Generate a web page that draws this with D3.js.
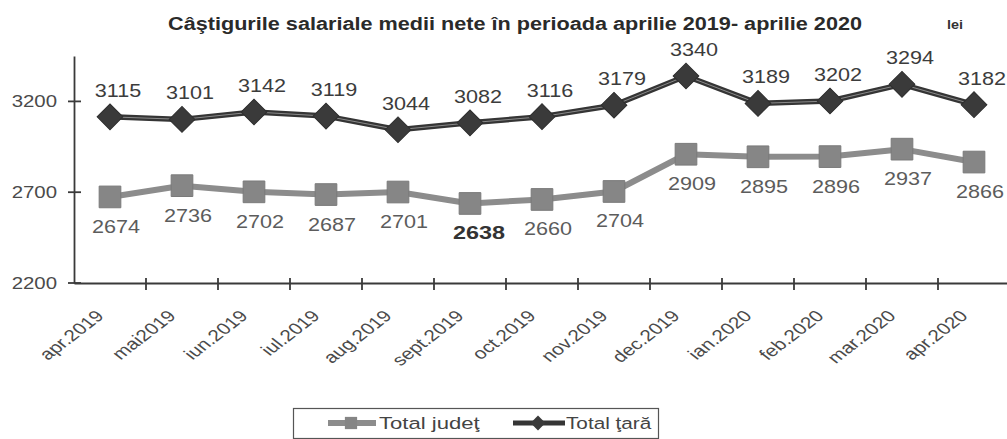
<!DOCTYPE html>
<html>
<head>
<meta charset="utf-8">
<script src="https://cdn.jsdelivr.net/npm/d3@7/dist/d3.min.js"></script>
<style>
  html, body { margin: 0; padding: 0; background: #fff; }
  svg { display: block; }
  text { font-family: "Liberation Sans", Arial, sans-serif; }
</style>
</head>
<body>
<svg id="chart" width="1007" height="439"></svg>
<script>
// ---- data ----
const categories = ["apr.2019","mai2019","iun.2019","iul.2019","aug.2019","sept.2019","oct.2019","nov.2019","dec.2019","ian.2020","feb.2020","mar.2020","apr.2020"];
const totalJudet = [2674, 2736, 2702, 2687, 2701, 2638, 2660, 2704, 2909, 2895, 2896, 2937, 2866];
const totalTara  = [3115, 3101, 3142, 3119, 3044, 3082, 3116, 3179, 3340, 3189, 3202, 3294, 3182];
const yTicks = [2200, 2700, 3200];
const seriesNames = ["Total judeţ", "Total ţară"];
const darkJudetLabels = ["sept.2019"]; // label printed darker (overprinted) in the original scan
const titleText = "Câştigurile salariale medii nete în perioada aprilie 2019- aprilie 2020";
const unitText = "lei";

// ---- layout ----
const SX = 1.2; // horizontal stretch of the scanned original
const svg = d3.select("#chart");
const x = d3.scaleBand().domain(categories).range([74, 1010]).padding(0);
const xb = d3.scaleLinear().domain([0, categories.length]).range([74, 1010]);
const y = d3.scaleLinear().domain([2200, 3450]).range([283, 56]);
const cx = c => x(c) + x.bandwidth() / 2;
const AX = "#3a3a3a";

// title
svg.append("text")
  .attr("x", 168).attr("y", 30)
  .attr("textLength", 694).attr("lengthAdjust", "spacingAndGlyphs")
  .style("font-size", "18px").style("font-weight", "bold").attr("fill", "#2a2a2a")
  .text(titleText);
svg.append("text")
  .attr("transform", `translate(947,29) scale(${SX},1)`)
  .style("font-size", "12px").style("font-weight", "bold").attr("fill", "#333")
  .text(unitText);

// y axis
const gy = svg.append("g").attr("transform", "translate(74,0)")
  .call(d3.axisLeft(y).tickValues(yTicks).tickSize(0).tickSizeOuter(0).tickFormat(d3.format("d")));
gy.select(".domain").attr("stroke", AX).attr("stroke-width", 1.8);
gy.selectAll(".tick text").each(function() {
  d3.select(this).attr("x", null).attr("dy", null)
   .attr("transform", `translate(-17,1) scale(${SX},1)`)
   .attr("text-anchor", "end").attr("dominant-baseline", "middle")
   .style("font-size", "17px").attr("fill", "#4a4a4a");
});
svg.append("g").selectAll("line").data(yTicks).join("line")
  .attr("x1", 68).attr("x2", 81).attr("y1", d => y(d)).attr("y2", d => y(d))
  .attr("stroke", AX).attr("stroke-width", 1.8);

// x axis (ticks at category boundaries)
const gx = svg.append("g").attr("transform", `translate(0,${y(2200)})`)
  .call(d3.axisBottom(xb).ticks(categories.length).tickSize(0).tickSizeOuter(0).tickFormat(""));
gx.select(".domain").attr("stroke", AX).attr("stroke-width", 1.8);
svg.append("g").selectAll("line").data(d3.range(1, categories.length + 1)).join("line")
  .attr("x1", d => xb(d)).attr("x2", d => xb(d))
  .attr("y1", y(2200) - 5).attr("y2", y(2200) + 7)
  .attr("stroke", AX).attr("stroke-width", 1.8);

// x labels
svg.append("g").selectAll("text").data(categories).join("text")
  .attr("transform", c => `translate(${cx(c) - 5},${y(2200) + 34}) scale(1.3,1) rotate(-45)`)
  .attr("text-anchor", "end")
  .style("font-size", "16px").attr("fill", "#4a4a4a")
  .text(c => c);

// series lines
const lineGen = d3.line().x((d, i) => cx(categories[i])).y(d => y(d));
svg.append("path").datum(totalJudet).attr("d", lineGen)
  .attr("fill", "none").attr("stroke", "#8c8c8c").attr("stroke-width", 6).attr("stroke-linejoin", "round");
svg.append("path").datum(totalTara).attr("d", lineGen)
  .attr("fill", "none").attr("stroke", "#353535").attr("stroke-width", 5.5).attr("stroke-linejoin", "round");
svg.append("path").datum(totalTara).attr("d", lineGen)
  .attr("fill", "none").attr("stroke", "#8a8a8a").attr("stroke-width", 1);

// markers
const sq = d3.symbol().type(d3.symbolSquare);
svg.append("g").selectAll("path").data(totalJudet).join("path")
  .attr("d", sq.size(470)())
  .attr("transform", (d, i) => `translate(${cx(categories[i])},${y(d)})`)
  .attr("fill", "#868686").attr("stroke", "#7a7a7a").attr("stroke-width", 1);
svg.append("g").selectAll("path").data(totalTara).join("path")
  .attr("d", sq.size(330)())
  .attr("transform", (d, i) => `translate(${cx(categories[i])},${y(d)}) rotate(45)`)
  .attr("fill", "#3a3a3a").attr("stroke", "#2e2e2e").attr("stroke-width", 1);

// data labels
svg.append("g").selectAll("text").data(totalTara).join("text")
  .attr("transform", (d, i) => `translate(${cx(categories[i]) + 8},${y(d) - 20}) scale(${SX},1)`)
  .attr("text-anchor", "middle")
  .style("font-size", "18px").attr("fill", "#3c3c3c")
  .text(d => d);
svg.append("g").selectAll("text").data(totalJudet).join("text")
  .attr("transform", (d, i) => {
    const dark = darkJudetLabels.includes(categories[i]);
    return `translate(${cx(categories[i]) + (dark ? 9 : 6)},${y(d) + 36}) scale(${dark ? 1.3 : SX},1)`;
  })
  .attr("text-anchor", "middle")
  .style("font-size", "18px")
  .style("font-weight", (d, i) => darkJudetLabels.includes(categories[i]) ? "bold" : "normal")
  .attr("fill", (d, i) => darkJudetLabels.includes(categories[i]) ? "#333" : "#5c5c5c")
  .text(d => d);

// legend
const lg = svg.append("g");
lg.append("rect").attr("x", 293.5).attr("y", 408.5).attr("width", 365).attr("height", 30)
  .attr("fill", "#fff").attr("stroke", "#555").attr("stroke-width", 1.2);
lg.append("line").attr("x1", 328).attr("x2", 376).attr("y1", 423).attr("y2", 423)
  .attr("stroke", "#8c8c8c").attr("stroke-width", 6);
lg.append("path").attr("d", sq.size(150)()).attr("transform", "translate(351,423)").attr("fill", "#858585");
lg.append("text").attr("transform", `translate(379,429) scale(1.3,1)`)
  .style("font-size", "17px").attr("fill", "#444").text(seriesNames[0]);
lg.append("line").attr("x1", 513).attr("x2", 565).attr("y1", 423).attr("y2", 423)
  .attr("stroke", "#353535").attr("stroke-width", 5);
lg.append("path").attr("d", sq.size(110)()).attr("transform", "translate(538,423) rotate(45)").attr("fill", "#3a3a3a");
lg.append("text").attr("transform", `translate(566,429) scale(1.22,1)`)
  .style("font-size", "17px").attr("fill", "#444").text(seriesNames[1]);
</script>
</body>
</html>
